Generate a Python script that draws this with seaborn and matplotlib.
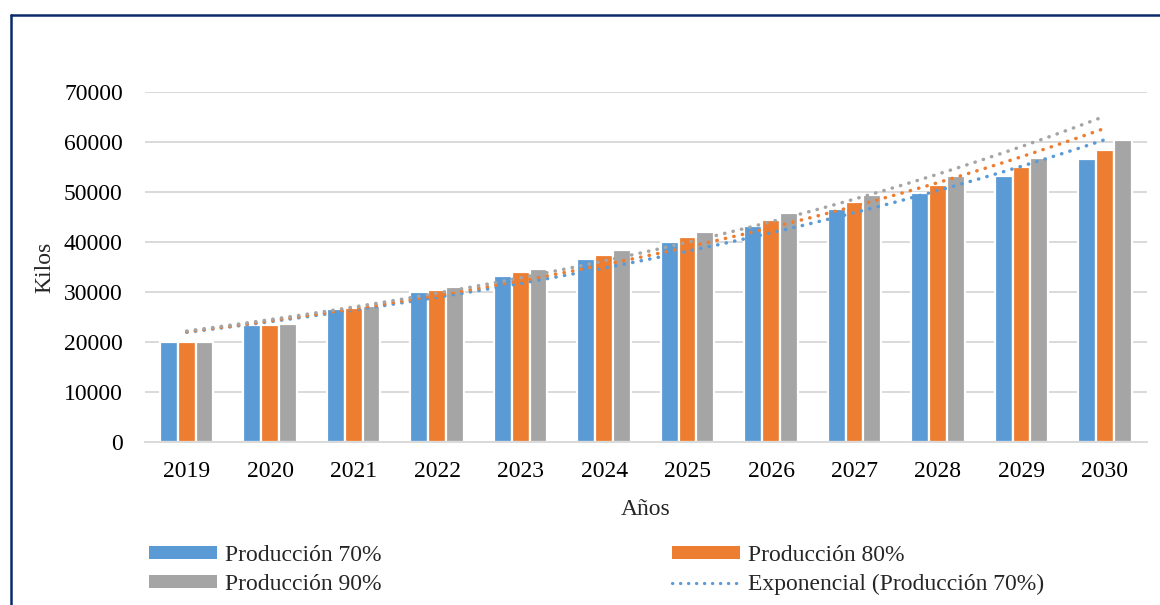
import numpy as np
import pandas as pd
import matplotlib
matplotlib.use("Agg")
import matplotlib.pyplot as plt
from matplotlib.lines import Line2D
from matplotlib.patches import Patch
import seaborn as sns

# ---- data ----
years = ["2019", "2020", "2021", "2022", "2023", "2024",
         "2025", "2026", "2027", "2028", "2029", "2030"]
prod_70 = [20000, 23300, 26650, 29950, 33200, 36600,
           39900, 43250, 46550, 49850, 53250, 56600]
prod_80 = [20000, 23400, 26850, 30400, 33900, 37400,
           40950, 44450, 47950, 51400, 54950, 58450]
prod_90 = [20000, 23600, 27250, 30950, 34650, 38350,
           42050, 45700, 49400, 53100, 56800, 60450]
series_names = ["Producción 70%", "Producción 80%", "Producción 90%"]
colors = ["#5B9BD5", "#ED7D31", "#A5A5A5"]
yticks = [0, 10000, 20000, 30000, 40000, 50000, 60000, 70000]

df = pd.DataFrame({
    "Año": years * 3,
    "Kilos": prod_70 + prod_80 + prod_90,
    "Serie": [series_names[0]] * 12 + [series_names[1]] * 12 + [series_names[2]] * 12,
})

sns.set_theme(style="white")
plt.rcParams["font.family"] = ["Liberation Serif", "DejaVu Serif"]
FS = 17

fig = plt.figure(figsize=(11.6, 6.05), dpi=100)
ax = fig.add_axes([0.125, 0.2694, 0.8635, 0.5786])

sns.barplot(data=df, x="Año", y="Kilos", hue="Serie", palette=colors,
            hue_order=series_names, order=years, width=0.64, saturation=1,
            edgecolor="white", linewidth=1.6, legend=False, ax=ax, zorder=2)

# exponential trendlines (fitted like Excel)
xi = np.arange(len(years))
xs = np.linspace(0, len(years) - 1, 200)
for vals, c in zip([prod_70, prod_80, prod_90], colors):
    b, lna = np.polyfit(xi + 1, np.log(vals), 1)
    ax.plot(xs, np.exp(lna + b * (xs + 1)), color=c, linewidth=2.5,
            linestyle=(0, (0.1, 2.4)), dash_capstyle="round", zorder=3)

ax.set_ylim(0, 70000)
ax.set_yticks(yticks)
ax.set_xlim(-0.5, len(years) - 0.5)
ax.yaxis.grid(True, color="#D9D9D9", linewidth=1.4, zorder=0)
ax.set_axisbelow(True)
for s in ["left", "right", "top"]:
    ax.spines[s].set_visible(False)
ax.spines["bottom"].set_color("#D9D9D9")
ax.spines["bottom"].set_linewidth(1.4)
ax.tick_params(axis="both", length=0, labelsize=FS, colors="black")
ax.tick_params(axis="x", pad=14)
ax.tick_params(axis="y", pad=16)
ax.set_xlabel("Años", fontsize=FS, labelpad=12)
ax.set_ylabel("Kilos", fontsize=FS, labelpad=6)

# legend
handles = [
    Patch(facecolor=colors[0], edgecolor="none"),
    Patch(facecolor=colors[2], edgecolor="none"),
    Patch(facecolor=colors[1], edgecolor="none"),
    Line2D([0], [0], color=colors[0], linewidth=2.3, linestyle=(0, (0.1, 2.4)),
           dash_capstyle="round"),
]
labels = ["Producción 70%", "Producción 90%", "Producción 80%",
          "Exponencial (Producción 70%)"]
fig.legend(handles, labels, ncol=2, loc="upper left",
           bbox_to_anchor=(149 / 1160, 0.099), frameon=False, fontsize=FS,
           handlelength=2.88, handleheight=0.47, handletextpad=0.34,
           columnspacing=12.3, labelspacing=0.34, borderpad=0.0,
           borderaxespad=0.0)

# outer border (cut at right and bottom like the reference)
fig.add_artist(Line2D([11 / 1160, 1.0], [1 - 15 / 605, 1 - 15 / 605],
                      transform=fig.transFigure, color="#0B2A6B", linewidth=1.8))
fig.add_artist(Line2D([11 / 1160, 11 / 1160], [0.0, 1 - 15 / 605],
                      transform=fig.transFigure, color="#0B2A6B", linewidth=1.8))

fig.savefig("out.png", dpi=100, facecolor="white")
